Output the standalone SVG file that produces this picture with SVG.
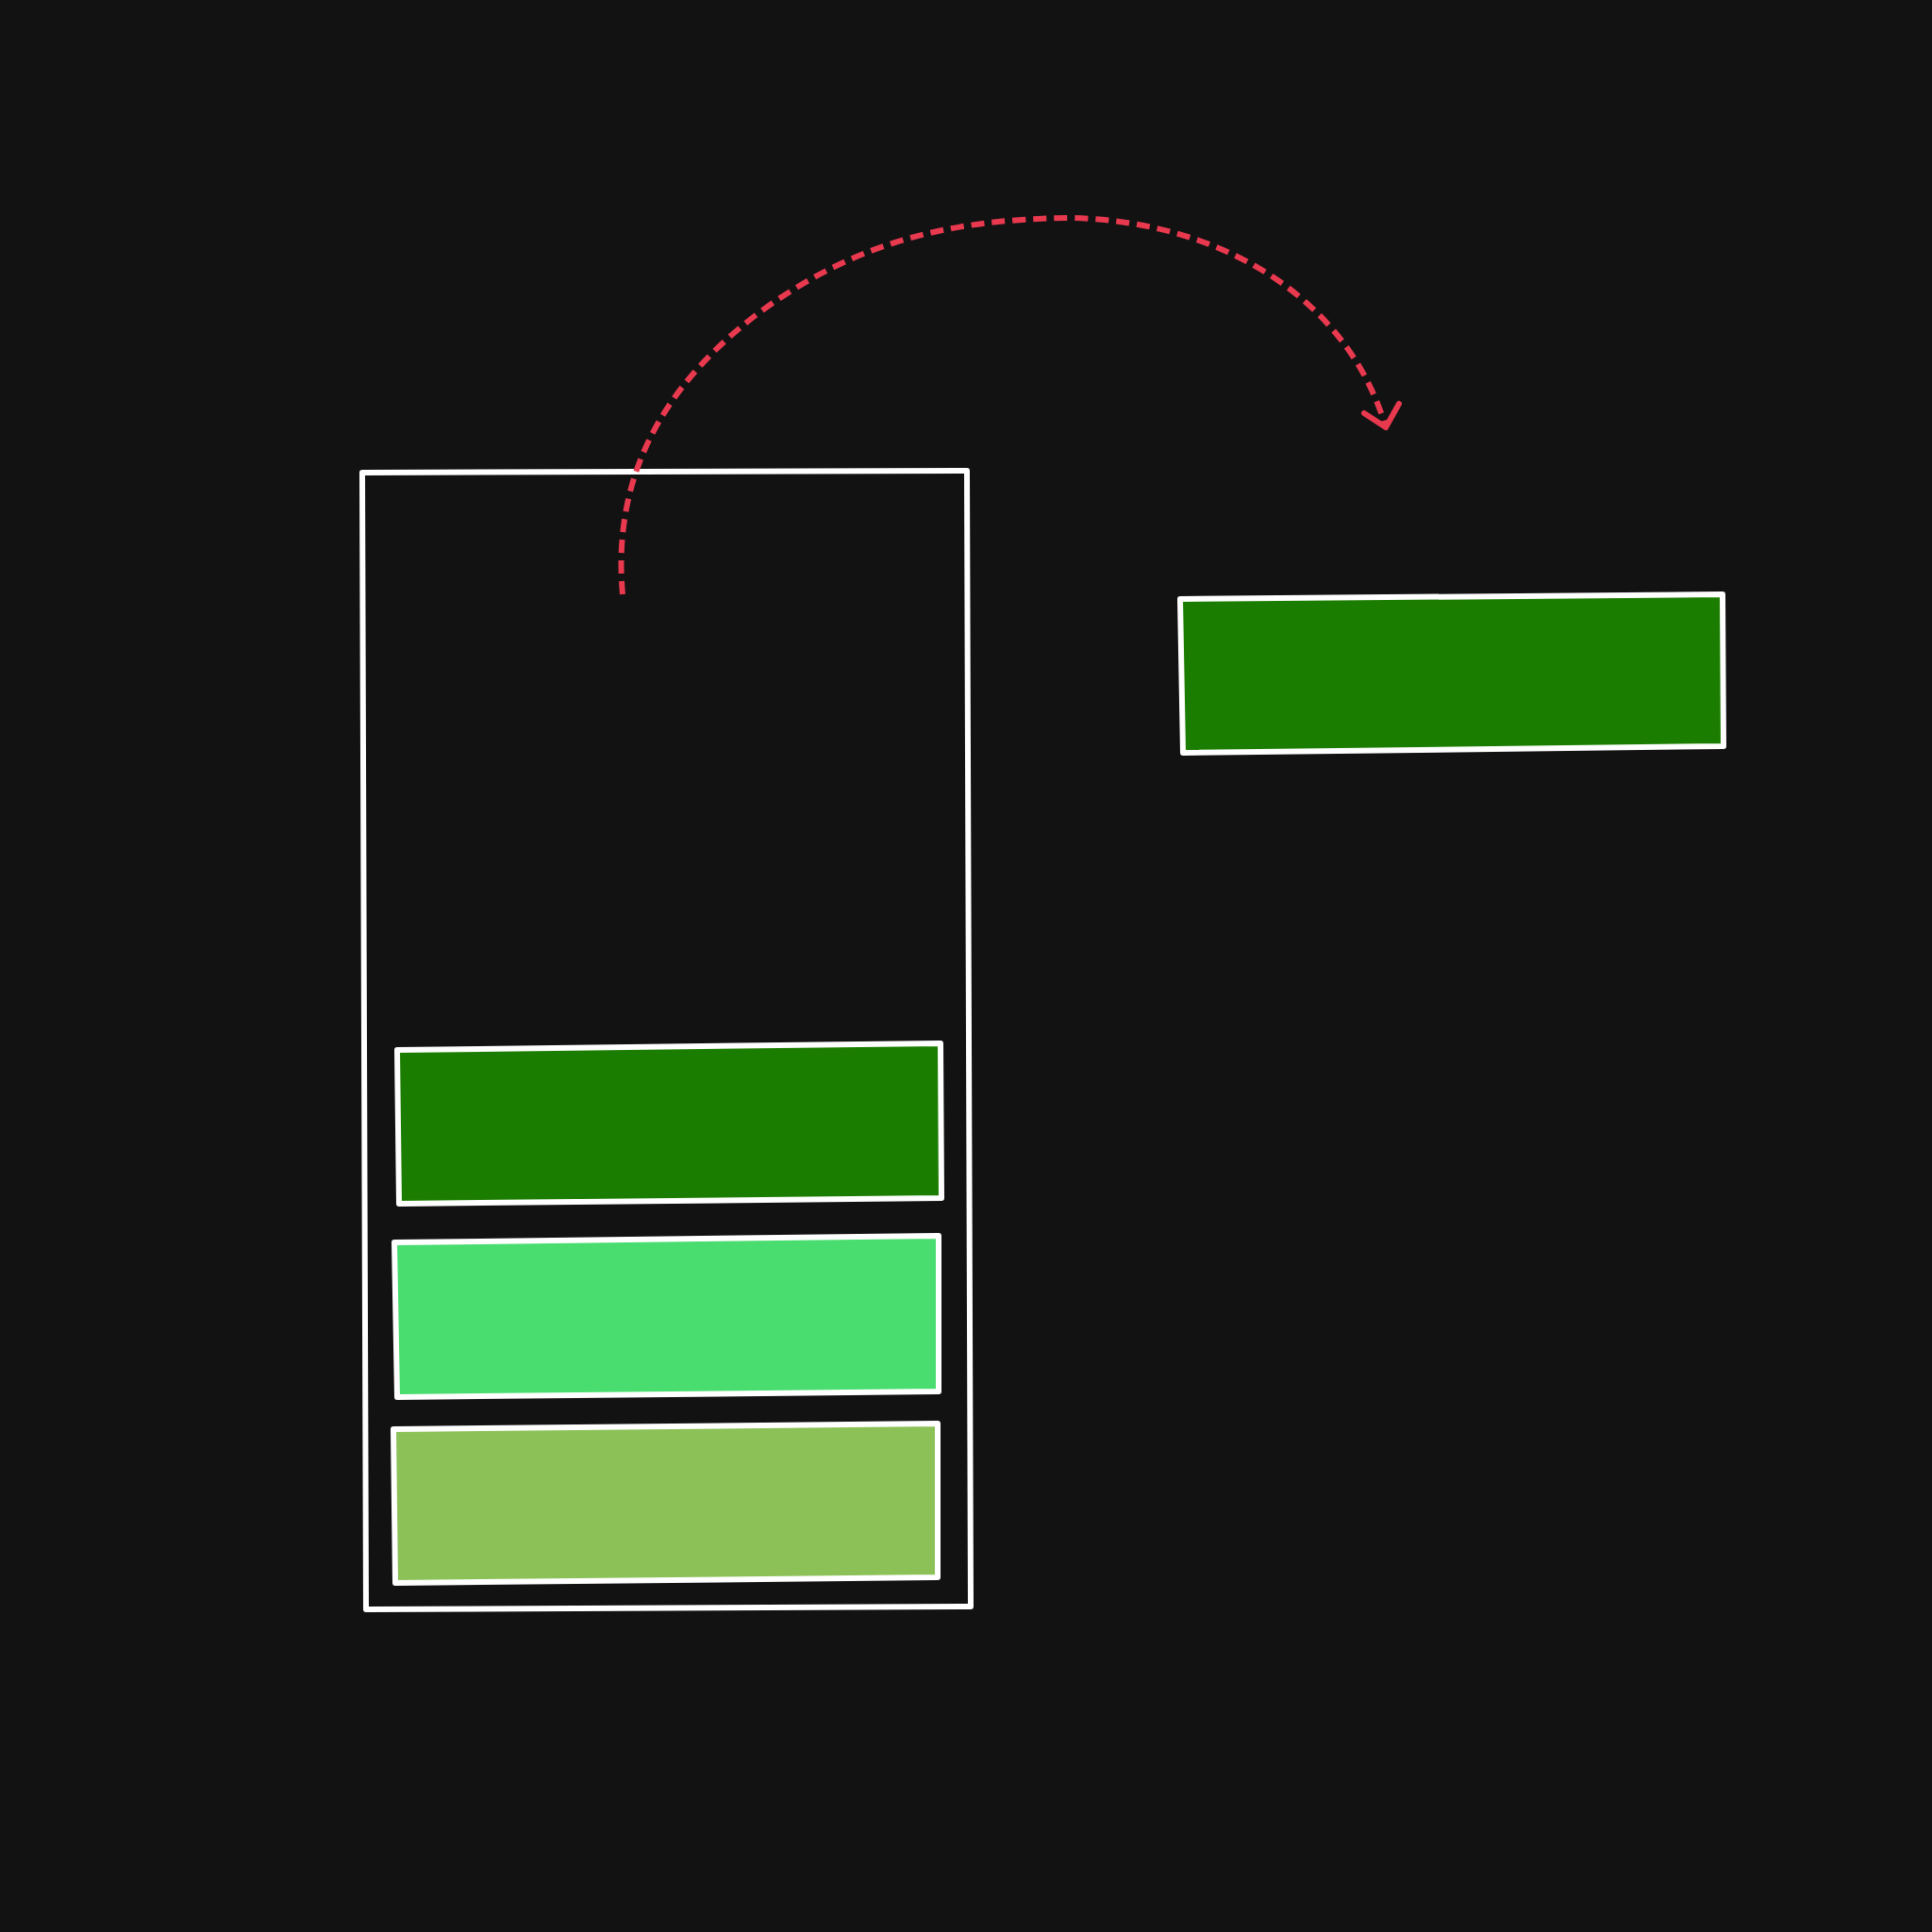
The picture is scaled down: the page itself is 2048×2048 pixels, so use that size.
<svg xmlns="http://www.w3.org/2000/svg" width="2048" height="2048" viewBox="0 0 2048 2048">
<style>
.box{stroke:#ffffff;stroke-width:6;stroke-linejoin:round}
.arrow{fill:none;stroke:#e8394f;stroke-width:6;stroke-linejoin:round}
</style>
<rect width="2048" height="2048" fill="#121212"/>
<g id="container"><polygon class="box" fill="none" points="384,501 1025,499 1029,1703 388,1706"/></g>
<g id="green-top"><polygon class="box" fill="#1b7d00" points="1251,635 1826,630 1827,791 1254,798"/></g>
<g id="green-1"><polygon class="box" fill="#1b7d00" points="421,1113 997,1106 998,1270 423,1276"/></g>
<g id="green-2"><polygon class="box" fill="#48dd6e" points="418,1317 995,1310 995,1475 421,1481"/></g>
<g id="green-3"><polygon class="box" fill="#8bc157" points="417,1515 994,1509 994,1672 419,1678"/></g>
<g id="connectors">
<path class="arrow" stroke-dasharray="14 8" stroke-linecap="butt" d="M660 630 C 650 520, 690 420, 800 335 C 900 260, 1000 232, 1136 231 C 1300 235, 1430 320, 1469 453"/>
<path class="arrow" stroke-linecap="round" d="M1446 438 L1469 453 L1483 428"/>
</g>
</svg>
